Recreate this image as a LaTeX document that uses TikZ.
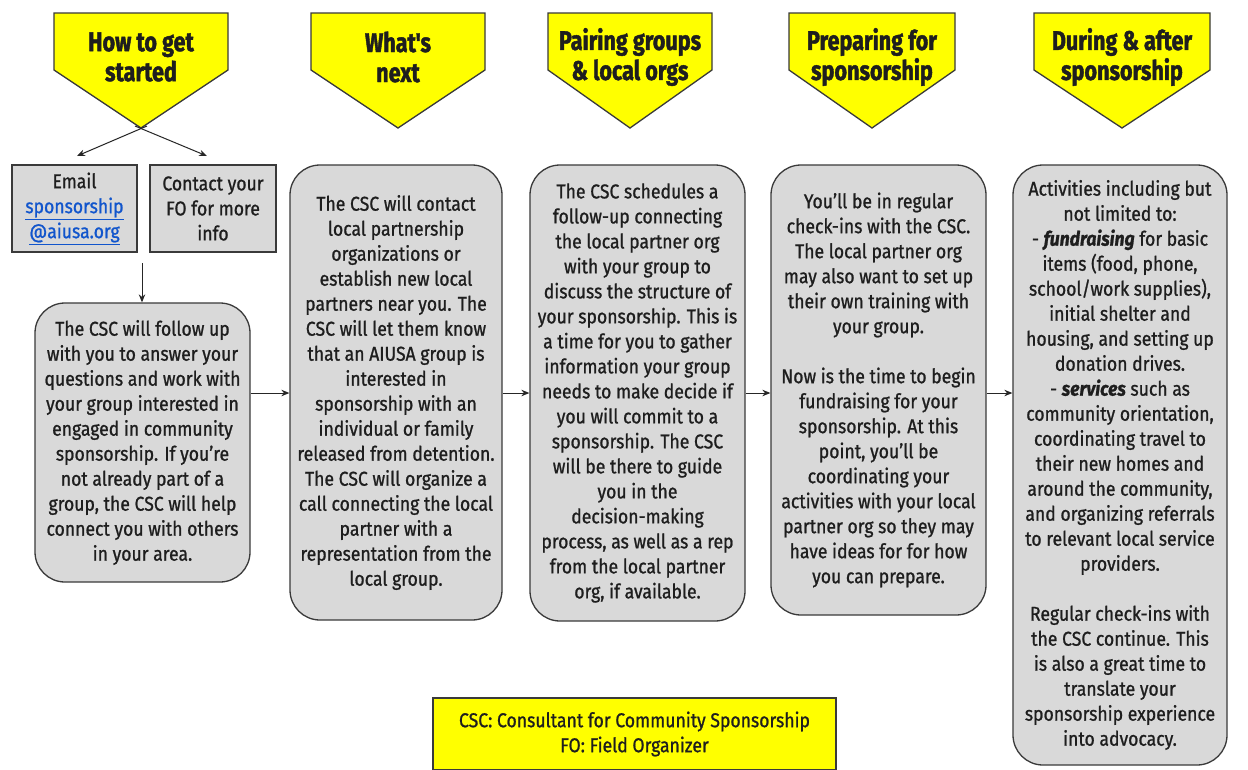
\documentclass[tikz,border=0pt]{standalone}
\usepackage{fontspec}
\setmainfont{Fira Sans}[FakeStretch=0.88,FakeBold=1]
\newfontfamily\headfont{Fira Sans}[FakeStretch=0.8,FakeBold=1.5]
\usetikzlibrary{arrows.meta}
\definecolor{yel}{HTML}{FFFF00}
\definecolor{boxgray}{HTML}{D9D9D9}
\definecolor{edge}{HTML}{3A3A3A}
\definecolor{linkblue}{HTML}{1155CC}
\definecolor{ink}{HTML}{1E1E1E}
\begin{document}
\begin{tikzpicture}[x=1pt,y=-1pt,text=ink,
  pent/.style={fill=yel,draw=edge,line width=1.3pt,line join=miter},
  head/.style={font=\headfont\bfseries\fontsize{27}{30}\selectfont,align=center,inner sep=0pt},
  sq/.style={draw=edge,fill=boxgray,line width=1.3pt,align=center,inner sep=0pt,font=\fontsize{20}{25}\selectfont},
  rbox/.style={draw=edge,fill=boxgray,line width=1.3pt,rounded corners=30pt,align=center,inner sep=0pt,font=\fontsize{20}{25}\selectfont},
  legend/.style={draw=edge,fill=yel,line width=1.3pt,align=center,inner sep=0pt,font=\fontsize{20}{25}\selectfont},
  arr/.style={-{Stealth[length=8pt,width=6.5pt]},line width=1pt,draw=black!85}]
\useasboundingbox (0,0) rectangle (1248,769);
\fill[white] (0,0) rectangle (1248,769);

% pentagons
\draw[pent] (54,13) -- (228,13) -- (228,70) -- (141,128) -- (54,70) -- cycle;
\draw[pent] (311,13) -- (485,13) -- (485,70) -- (398,128) -- (311,70) -- cycle;
\draw[pent] (548,13) -- (712,13) -- (712,70) -- (630,128) -- (548,70) -- cycle;
\draw[pent] (789,13) -- (955,13) -- (955,70) -- (872,128) -- (789,70) -- cycle;
\draw[pent] (1034,13) -- (1210,13) -- (1210,70) -- (1122,128) -- (1034,70) -- cycle;

\node[head] (h1) at (141,57) {How to get\\started};
\node[head] (h2) at (398,57) {What's\\next};
\node[head] (h3) at (630,57) {Pairing groups\\\& local orgs};
\node[head] (h4) at (872,57) {Preparing for\\sponsorship};
\node[head] (h5) at (1122,57) {During \& after\\sponsorship};

\coordinate (t1) at (141,128);
\coordinate (t1l) at (147,126);
\coordinate (t1r) at (135,126);

% small boxes
\node[sq,minimum width=125pt,minimum height=87pt] (email) at (74.5,208.5)
  {Email\\{\color{linkblue}\underline{sponsorship}}\\{\color{linkblue}\underline{@aiusa.org}}};
\node[sq,minimum width=126pt,minimum height=87pt] (contact) at (213,208.5)
  {Contact your\\FO for more\\info};

\coordinate (e1) at (77,156);
\coordinate (e2) at (207,156);
\draw[arr] (t1l) -- (e1);
\draw[arr] (t1r) -- (e2);

% rounded boxes
\node[rbox,minimum width=215pt,minimum height=279pt] (b1) at (142.5,442.5)
  {The CSC will follow up\\with you to answer your\\questions and work with\\your group interested in\\engaged in community\\sponsorship. If you're\\not already part of a\\group, the CSC will help\\connect you with others\\in your area.};

\node[rbox,minimum width=212pt,minimum height=455pt] (b2) at (396,392.5)
  {The CSC will contact\\local partnership\\organizations or\\establish new local\\partners near you. The\\CSC will let them know\\that an AIUSA group is\\interested in\\sponsorship with an\\individual or family\\released from detention.\\The CSC will organize a\\call connecting the local\\partner with a\\representation from the\\local group.};

\node[rbox,minimum width=215pt,minimum height=456pt] (b3) at (637.5,393)
  {The CSC schedules a\\follow-up connecting\\the local partner org\\with your group to\\discuss the structure of\\your sponsorship. This is\\a time for you to gather\\information your group\\needs to make decide if\\you will commit to a\\sponsorship. The CSC\\will be there to guide\\you in the\\decision-making\\process, as well as a rep\\from the local partner\\org, if available.};

\node[rbox,minimum width=215pt,minimum height=450pt] (b4) at (878.5,390)
  {You'll be in regular\\check-ins with the CSC.\\The local partner org\\may also want to set up\\their own training with\\your group.\\[25pt]Now is the time to begin\\fundraising for your\\sponsorship. At this\\point, you'll be\\coordinating your\\activities with your local\\partner org so they may\\have ideas for for how\\you can prepare.};

\node[rbox,minimum width=214pt,minimum height=600pt] (b5) at (1120,465)
  {Activities including but\\not limited to:\\- \textbf{\textit{fundraising}} for basic\\items (food, phone,\\school/work supplies),\\initial shelter and\\housing, and setting up\\donation drives.\\- \textbf{\textit{services}} such as\\community orientation,\\coordinating travel to\\their new homes and\\around the community,\\and organizing referrals\\to relevant local service\\providers.\\[25pt]Regular check-ins with\\the CSC continue. This\\is also a great time to\\translate your\\sponsorship experience\\into advocacy.};

% connectors
\coordinate (c1) at (142,263);
\draw[arr] (c1) -- (c1 |- b1.north);
\coordinate (ay) at (0,393);
\draw[arr] (ay -| b1.east) -- (ay -| b2.west);
\draw[arr] (ay -| b2.east) -- (ay -| b3.west);
\draw[arr] (ay -| b3.east) -- (ay -| b4.west);
\draw[arr] (ay -| b4.east) -- (ay -| b5.west);

% legend
\node[legend,minimum width=403pt,minimum height=72pt] (leg) at (634.5,734)
  {CSC: Consultant for Community Sponsorship\\FO: Field Organizer};
\end{tikzpicture}
\end{document}
